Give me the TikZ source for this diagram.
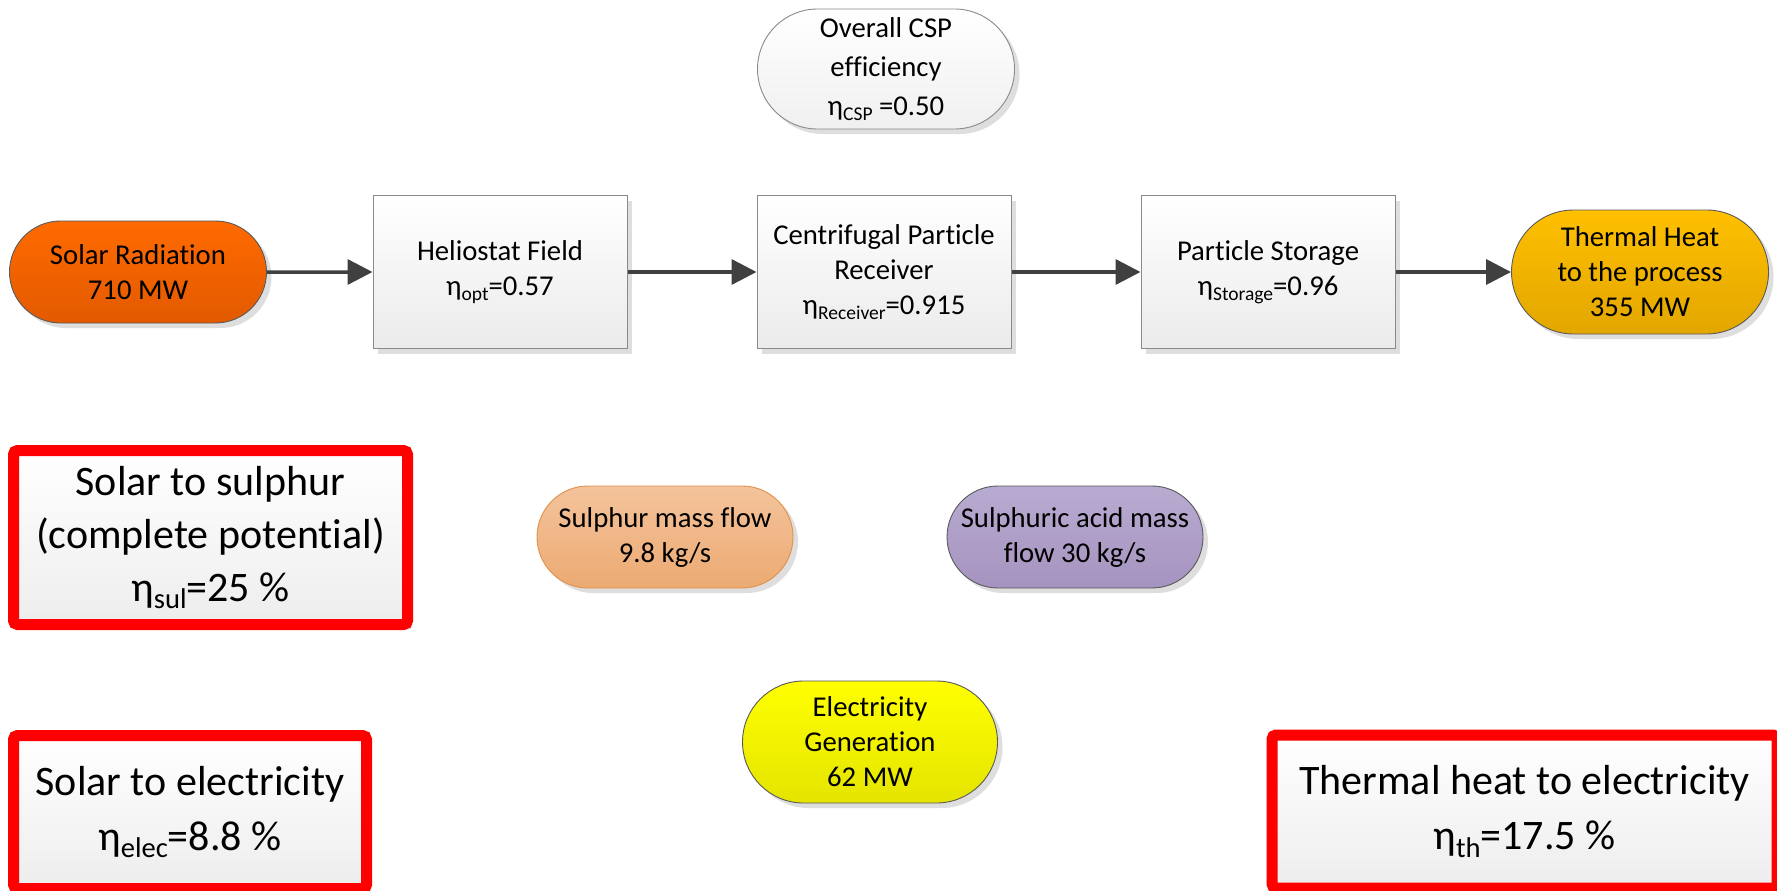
\documentclass[tikz,border=0pt]{standalone}
\usepackage{fontspec}
\setmainfont{Carlito}[RawFeature=-liga]
\usepackage{graphicx}
\usetikzlibrary{shapes.misc,shadows,arrows.meta}
\definecolor{arrowgray}{HTML}{404040}
\definecolor{edgegray}{HTML}{8A8A8A}
\definecolor{pilledge}{HTML}{5A5A5A}
\definecolor{solartop}{HTML}{FF6A00}
\definecolor{solarbot}{HTML}{E25A00}
\definecolor{thermtop}{HTML}{FFC000}
\definecolor{thermbot}{HTML}{E2A600}
\definecolor{elgtop}{HTML}{FFFF00}
\definecolor{elgbot}{HTML}{E4E400}
\definecolor{sultop}{HTML}{F4C39C}
\definecolor{sulbot}{HTML}{ECAA72}
\definecolor{suledge}{HTML}{E0914A}
\definecolor{acidtop}{HTML}{B8ABD1}
\definecolor{acidbot}{HTML}{A593BF}
\definecolor{framered}{HTML}{FF0000}
\newcommand\smallf{\fontsize{28.7pt}{35pt}\selectfont}
\newcommand\cspf{\fontsize{28.7pt}{39pt}\selectfont}
\newcommand\bigf{\fontsize{42pt}{53pt}\selectfont}
\newcommand\bigtwo{\fontsize{42pt}{55pt}\selectfont}
\newcommand\sbs[1]{\raisebox{-0.17em}{\scalebox{0.68}{#1}}}
\tikzset{
  shad/.style={drop shadow={shadow xshift=5pt, shadow yshift=-5pt, fill=black, opacity=0.13}},
  pillnode/.style={rounded rectangle, draw=pilledge, line width=0.9pt, inner sep=0pt,
    minimum width=256pt, minimum height=102pt, align=center, font=\smallf, shad},
  procbox/.style={rectangle, draw=edgegray, line width=1pt, inner sep=0pt,
    minimum width=254pt, minimum height=153pt, align=center, font=\smallf,
    top color=white, bottom color=black!8, shad},
  redframe/.style={rectangle, draw=framered, line width=11pt, rounded corners=4pt, inner sep=0pt,
    align=center, font=\bigf, top color=white, bottom color=black!7, shad},
  flow/.style={draw=arrowgray, line width=3.5pt, -{Triangle[length=25pt,width=25pt]}}
}
\begin{document}
\begin{tikzpicture}[x=1pt,y=-1pt]
\useasboundingbox (0,0) rectangle (1777,891);
\clip (0,0) rectangle (1777,891);
\fill[white] (0,0) rectangle (1777,891);

\node[pillnode, draw=edgegray, top color=white, bottom color=black!6, minimum width=257pt, minimum height=120pt, font=\cspf] (csp) at (886,69)
  {Overall CSP\\efficiency\\η\sbs{CSP} =0.50};

\node[pillnode, top color=solartop, bottom color=solarbot, minimum width=257pt, minimum height=102pt] (solar) at (138,272)
  {Solar Radiation\\710 MW};
\node[procbox] (helio) at (500,272) {Heliostat Field\\η\sbs{opt}=0.57};
\node[procbox] (recv) at (884,272) {Centrifugal Particle\\Receiver\\η\sbs{Receiver}=0.915};
\node[procbox] (stor) at (1268,272) {Particle Storage\\η\sbs{Storage}=0.96};
\node[pillnode, top color=thermtop, bottom color=thermbot, minimum width=257pt, minimum height=124pt] (therm) at (1640,272)
  {Thermal Heat\\to the process\\355 MW};

\draw[flow] (solar) -- (helio);
\draw[flow] (helio) -- (recv);
\draw[flow] (recv) -- (stor);
\draw[flow] (stor) -- (therm);

\node[redframe, minimum width=394pt, minimum height=174pt] (fsul) at (210.5,537.5)
  {\raisebox{-4pt}{Solar to sulphur}\\\raisebox{-4pt}{(complete potential)}\\\raisebox{-4pt}{η\sbs{sul}=25 \%}};
\node[pillnode, draw=suledge, top color=sultop, bottom color=sulbot] (sulflow) at (665,537)
  {Sulphur mass flow\\9.8 kg/s};
\node[pillnode, top color=acidtop, bottom color=acidbot] (acid) at (1075,537)
  {Sulphuric acid mass\\flow 30 kg/s};
\node[pillnode, top color=elgtop, bottom color=elgbot, minimum width=255pt, minimum height=122pt] (elgen) at (870,742)
  {Electricity\\Generation\\62 MW};

\node[redframe, font=\bigtwo, minimum width=353pt, minimum height=153pt] (felec) at (190,812)
  {Solar to electricity\\η\sbs{elec}=8.8 \%};
\node[redframe, font=\bigtwo, minimum width=505pt, minimum height=153pt] (fth) at (1524.5,811.5)
  {Thermal heat to electricity\\η\sbs{th}=17.5 \%};
\end{tikzpicture}
\end{document}
